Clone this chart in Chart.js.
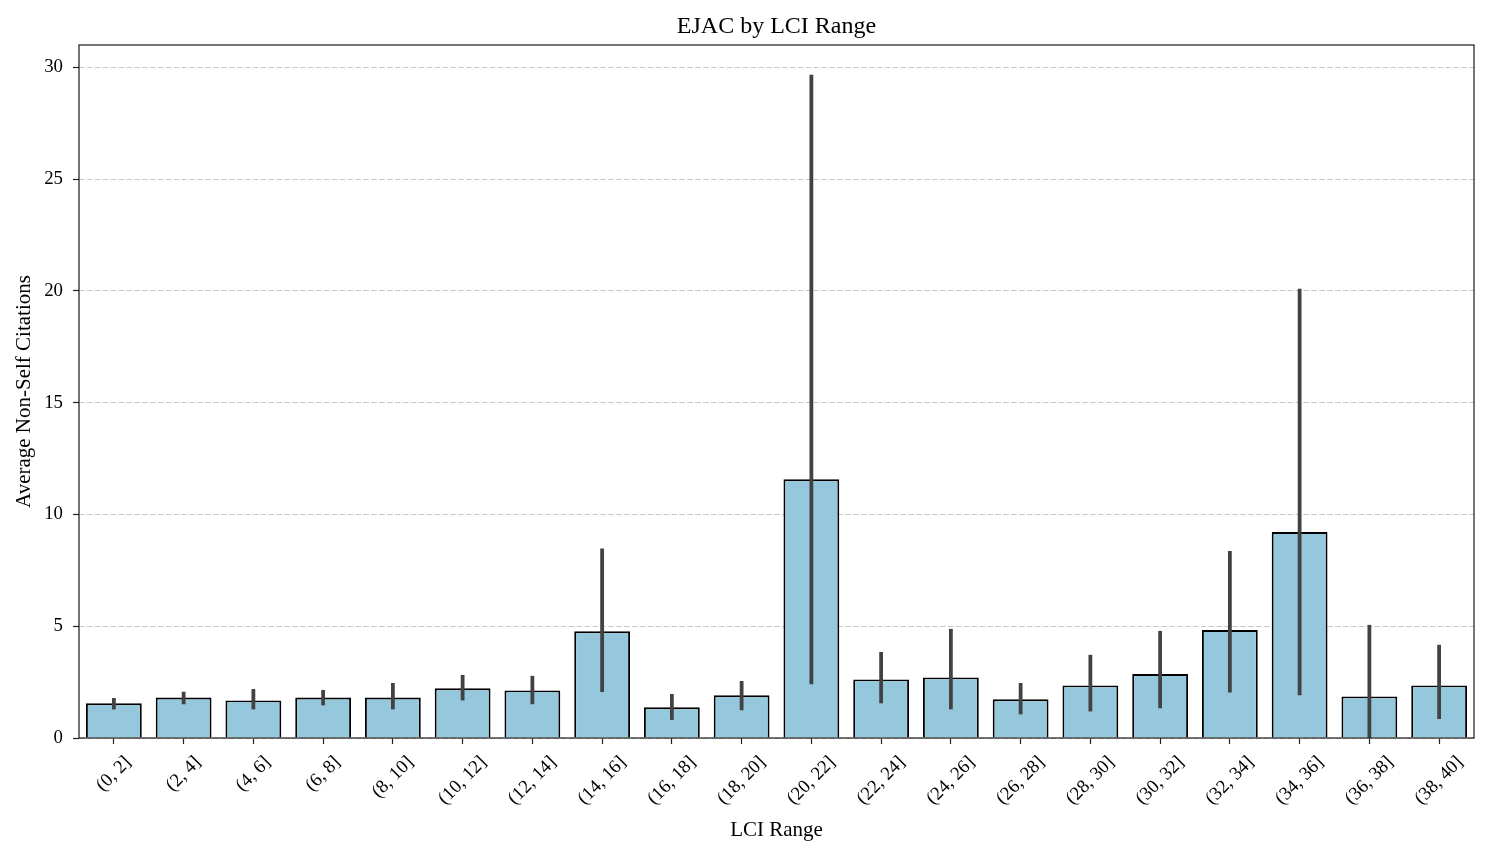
<!DOCTYPE html>
<html>
<head>
<meta charset="utf-8">
<script src="https://cdn.jsdelivr.net/npm/chart.js@4.4.0/dist/chart.umd.min.js"></script>
<style>
  body { margin: 0; background: #fff; }
  canvas { display: block; }
</style>
</head>
<body>
<canvas id="chart" width="1488" height="857"></canvas>
<script>
// data
const categories = ['(0, 2]', '(2, 4]', '(4, 6]', '(6, 8]', '(8, 10]', '(10, 12]', '(12, 14]',
  '(14, 16]', '(16, 18]', '(18, 20]', '(20, 22]', '(22, 24]', '(24, 26]', '(26, 28]',
  '(28, 30]', '(30, 32]', '(32, 34]', '(34, 36]', '(36, 38]', '(38, 40]'];
const meanCitations = [1.55, 1.81, 1.68, 1.81, 1.81, 2.22, 2.13, 4.77, 1.37, 1.91,
  11.57, 2.62, 2.71, 1.73, 2.35, 2.86, 4.83, 9.21, 1.86, 2.35];
const ciLow = [1.28, 1.51, 1.28, 1.46, 1.28, 1.68, 1.51, 2.06, 0.81, 1.24,
  2.40, 1.55, 1.28, 1.06, 1.19, 1.33, 2.04, 1.91, 0, 0.85];
const ciHigh = [1.79, 2.07, 2.19, 2.15, 2.46, 2.82, 2.78, 8.48, 1.97, 2.55,
  29.67, 3.85, 4.88, 2.46, 3.72, 4.79, 8.36, 20.1, 5.06, 4.17];
const yTicks = [0, 5, 10, 15, 20, 25, 30];

const FONT = "'Liberation Serif', 'Times New Roman', serif";
const TICK_SIZE = 18.8;

// white background + frame around the plot
const framePlugin = {
  id: 'frame',
  beforeDraw(chart) {
    const ctx = chart.ctx;
    ctx.save();
    ctx.fillStyle = '#fff';
    ctx.fillRect(0, 0, chart.width, chart.height);
    ctx.restore();
  },
  afterDraw(chart) {
    const a = chart.chartArea, ctx = chart.ctx;
    ctx.save();
    ctx.strokeStyle = '#1a1a1a';
    ctx.lineWidth = 1.2;
    ctx.strokeRect(a.left, a.top, a.right - a.left, a.bottom - a.top);
    ctx.restore();
  }
};

// confidence interval lines on top of the bars
const errorBarPlugin = {
  id: 'errorBars',
  afterDatasetsDraw(chart) {
    const ctx = chart.ctx;
    const x = chart.scales.x, y = chart.scales.y;
    ctx.save();
    ctx.strokeStyle = '#424242';
    ctx.lineWidth = 3.8;
    ctx.lineCap = 'butt';
    categories.forEach((c, i) => {
      const px = x.getPixelForValue(i);
      ctx.beginPath();
      ctx.moveTo(px, y.getPixelForValue(ciLow[i]));
      ctx.lineTo(px, y.getPixelForValue(ciHigh[i]));
      ctx.stroke();
    });
    ctx.restore();
  }
};

// x labels rotated 45deg, centred under the tick like matplotlib
const xLabelPlugin = {
  id: 'xLabels',
  afterDraw(chart) {
    const ctx = chart.ctx;
    const x = chart.scales.x;
    const top = chart.chartArea.bottom + 15;
    const fs = TICK_SIZE;
    ctx.save();
    ctx.font = fs + 'px ' + FONT;
    ctx.fillStyle = '#000';
    ctx.textAlign = 'center';
    ctx.textBaseline = 'middle';
    categories.forEach((lab, i) => {
      const px = x.getPixelForValue(i);
      const w = ctx.measureText(lab).width;
      const half = (w + fs) * Math.SQRT1_2 / 2;
      ctx.save();
      ctx.translate(px, top + half);
      ctx.rotate(-Math.PI / 4);
      ctx.fillText(lab, 0, 0);
      ctx.restore();
    });
    ctx.restore();
  }
};

new Chart(document.getElementById('chart'), {
  type: 'bar',
  data: {
    labels: categories,
    datasets: [{
      data: meanCitations,
      backgroundColor: '#95c8dd',
      borderColor: '#000',
      borderWidth: 1.9,
      categoryPercentage: 1.0,
      barPercentage: 0.8
    }]
  },
  options: {
    responsive: false,
    animation: false,
    layout: { padding: { left: 0, right: 14, top: 0, bottom: 0 } },
    plugins: {
      legend: { display: false },
      tooltip: { enabled: false },
      title: {
        display: true,
        fullSize: false,
        text: 'EJAC by LCI Range',
        color: '#000',
        font: { family: FONT, size: 24, weight: 'normal' },
        padding: { top: 12, bottom: 4.2 }
      }
    },
    scales: {
      x: {
        grid: { display: true, offset: false, drawOnChartArea: false, drawTicks: true, tickLength: 6, tickColor: '#222', tickWidth: 1.2 },
        border: { display: false },
        ticks: { display: false },
        title: {
          display: true, text: 'LCI Range', color: '#000',
          font: { family: FONT, size: 21 }, padding: { top: 0, bottom: 14.4 }
        },
        afterFit(scale) { scale.height = 119; }
      },
      y: {
        min: 0,
        max: 31,
        afterBuildTicks(scale) { scale.ticks = yTicks.map(v => ({ value: v })); },
        grid: { color: '#c6c6c6', lineWidth: 1, drawTicks: true, tickLength: 6, tickColor: '#222', tickWidth: 1.2 },
        border: { display: false, dash: [5.5, 2.4] },
        ticks: { color: '#000', font: { family: FONT, size: TICK_SIZE }, padding: 10 },
        title: {
          display: true, text: 'Average Non-Self Citations', color: '#000',
          font: { family: FONT, size: 21 }, padding: { top: 11.5, bottom: 0 }
        },
        afterFit(scale) { scale.width = 79; }
      }
    }
  },
  plugins: [framePlugin, errorBarPlugin, xLabelPlugin]
});
</script>
</body>
</html>
